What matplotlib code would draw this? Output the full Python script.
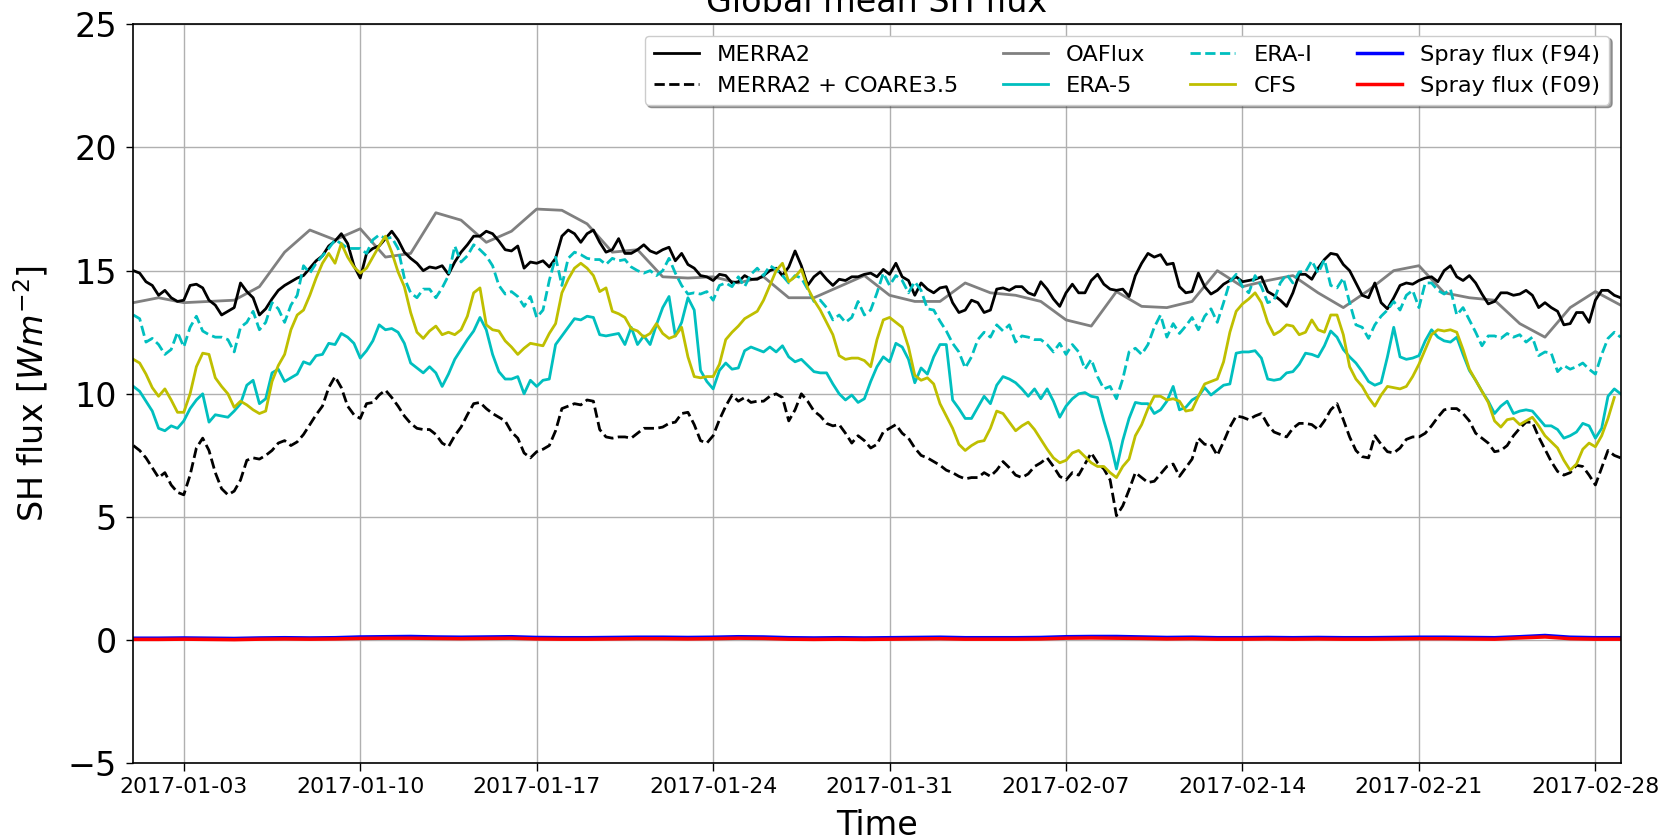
import matplotlib as mpl
mpl.use('agg')
import matplotlib.pyplot as plt
import matplotlib.dates as mdates
import numpy as np
import pandas as pd

# 6-hourly series, one row per day (00, 06, 12, 18 UTC), last value = 2017-03-01 00 UTC
merra2 = [
    15.0, 14.9, 14.55, 14.4,   14.0, 14.2, 13.9, 13.75,   13.8, 14.4, 14.45, 14.3,
    13.8, 13.6, 13.2, 13.35,   13.5, 14.5, 14.15, 13.9,   13.2, 13.45, 13.85, 14.2,
    14.4, 14.55, 14.7, 14.8,   15.1, 15.4, 15.6, 16.0,   16.2, 16.5, 16.1, 15.2,
    14.7, 15.7, 15.9, 16.0,   16.3, 16.6, 16.25, 15.75,   15.5, 15.3, 15.0, 15.15,
    15.1, 15.2, 14.85, 15.35,   15.75, 16.05, 16.4, 16.4,   16.6, 16.5, 16.2, 15.85,
    15.8, 16.0, 15.1, 15.35,   15.3, 15.4, 15.15, 15.5,   16.4, 16.65, 16.5, 16.15,
    16.5, 16.65, 16.15, 15.75,   15.85, 16.3, 15.7, 15.7,   15.85, 16.05, 15.8, 15.7,
    15.85, 15.95, 15.4, 15.7,   15.25, 15.1, 14.8, 14.75,   14.6, 14.85, 14.8, 14.5,
    14.55, 14.8, 14.65, 14.65,   14.8, 15.0, 15.1, 14.8,   15.15, 15.8, 15.2, 14.4,
    14.75, 14.95, 14.65, 14.4,   14.65, 14.6, 14.75, 14.75,   14.85, 14.9, 14.75, 15.05,
    14.85, 15.3, 14.75, 14.6,   14.0, 14.5, 14.25, 14.1,   14.3, 14.35, 13.7, 13.3,
    13.4, 13.8, 13.7, 13.3,   13.4, 14.25, 14.3, 14.2,   14.35, 14.35, 14.1, 14.0,
    14.55, 14.25, 13.85, 13.55,   14.1, 14.45, 14.1, 14.1,   14.6, 14.85, 14.45, 14.25,
    14.2, 14.25, 13.95, 14.8,   15.3, 15.7, 15.55, 15.65,   15.25, 15.3, 14.35, 14.1,
    14.15, 14.9, 14.35, 14.05,   14.2, 14.45, 14.6, 14.75,   14.55, 14.6, 14.65, 14.75,
    14.15, 14.0, 13.8, 13.55,   14.1, 14.85, 14.85, 14.65,   15.1, 15.45, 15.7, 15.65,
    15.25, 15.0, 14.5, 14.0,   13.9, 14.5, 13.7, 13.45,   13.9, 14.4, 14.5, 14.45,
    14.6, 14.7, 14.75, 14.55,   15.0, 15.2, 14.75, 14.6,   14.8, 14.5, 14.05, 13.65,
    13.75, 14.1, 14.1, 14.0,   14.05, 14.2, 14.0, 13.5,   13.7, 13.5, 13.35, 12.8,
    12.85, 13.3, 13.3, 12.9,   13.8, 14.2, 14.2, 14.0,   13.9]

merra2_coare = [
    7.9, 7.7, 7.4, 7.0,   6.6, 6.8, 6.3, 6.0,   5.9, 6.7, 7.8, 8.2,
    7.7, 6.8, 6.15, 5.9,   6.05, 6.5, 7.3, 7.4,   7.35, 7.5, 7.7, 8.0,
    8.1, 7.9, 8.05, 8.35,   8.75, 9.15, 9.5, 10.25,   10.7, 10.25, 9.5, 9.15,
    9.0, 9.6, 9.65, 9.95,   10.15, 9.85, 9.5, 9.1,   8.8, 8.6, 8.55, 8.55,
    8.35, 8.0, 7.85, 8.3,   8.65, 9.15, 9.6, 9.65,   9.4, 9.2, 9.05, 8.9,
    8.45, 8.2, 7.6, 7.4,   7.65, 7.75, 7.9, 8.5,   9.4, 9.5, 9.6, 9.55,
    9.75, 9.7, 8.55, 8.25,   8.2, 8.25, 8.25, 8.2,   8.4, 8.6, 8.6, 8.6,
    8.65, 8.8, 8.85, 9.2,   9.25, 8.75, 8.1, 8.0,   8.3, 8.95, 9.5, 9.95,
    9.7, 9.85, 9.65, 9.7,   9.7, 9.9, 10.0, 9.85,   8.9, 9.35, 10.0, 9.7,
    9.3, 9.1, 8.8, 8.7,   8.75, 8.4, 8.0, 8.3,   8.1, 7.8, 7.95, 8.45,
    8.6, 8.75, 8.4, 8.2,   7.8, 7.5, 7.4, 7.25,   7.1, 6.9, 6.8, 6.65,
    6.55, 6.6, 6.6, 6.8,   6.65, 6.9, 7.25, 7.0,   6.7, 6.6, 6.75, 7.05,
    7.2, 7.4, 7.05, 6.65,   6.5, 6.8, 6.7, 7.15,   7.6, 7.2, 6.95, 6.5,
    5.05, 5.45, 6.1, 6.8,   6.6, 6.4, 6.45, 6.75,   7.05, 7.15, 6.65, 7.0,
    7.35, 8.2, 7.95, 7.95,   7.5, 8.05, 8.65, 9.1,   9.05, 8.95, 9.1, 9.2,
    8.75, 8.45, 8.35, 8.25,   8.6, 8.8, 8.8, 8.75,   8.55, 8.9, 9.35, 9.6,
    8.95, 8.25, 7.7, 7.45,   7.4, 8.3, 7.95, 7.65,   7.6, 7.8, 8.15, 8.25,
    8.25, 8.4, 8.7, 9.05,   9.35, 9.4, 9.4, 9.2,   8.9, 8.4, 8.2, 8.0,
    7.65, 7.7, 7.9, 8.3,   8.6, 8.85, 8.85, 8.25,   7.75, 7.25, 6.85, 6.7,
    6.8, 7.1, 7.05, 6.7,   6.3, 7.0, 7.7, 7.5,   7.4]

era5 = [
    10.3, 10.1, 9.7, 9.3,   8.6, 8.5, 8.7, 8.6,   8.9, 9.4, 9.75, 10.0,
    8.85, 9.15, 9.1, 9.05,   9.3, 9.6, 10.35, 10.55,   9.6, 9.8, 10.85, 11.0,
    10.5, 10.65, 10.8, 11.3,   11.2, 11.55, 11.6, 12.05,   12.0, 12.45, 12.3, 12.05,
    11.45, 11.75, 12.15, 12.8,   12.6, 12.65, 12.5, 12.05,   11.25, 11.05, 10.85, 11.1,
    10.85, 10.3, 10.8, 11.4,   11.8, 12.2, 12.55, 13.1,   12.6, 11.6, 10.9, 10.6,
    10.6, 10.7, 10.0, 10.55,   10.3, 10.55, 10.6, 12.0,   12.35, 12.7, 13.05, 13.0,
    13.15, 13.1, 12.4, 12.35,   12.4, 12.45, 12.0, 12.7,   12.0, 12.35, 12.0, 12.8,
    13.5, 13.95, 12.35, 12.9,   13.9, 13.4, 10.95, 10.5,   10.2, 10.95, 11.25, 11.0,
    11.05, 11.75, 11.9, 11.8,   11.7, 11.9, 11.7, 11.95,   11.5, 11.3, 11.4, 11.15,
    10.9, 10.85, 10.85, 10.4,   10.0, 9.75, 9.95, 9.65,   9.8, 10.5, 11.1, 11.5,
    11.3, 12.05, 11.9, 11.4,   10.45, 11.05, 10.8, 11.5,   12.0, 12.0, 9.75, 9.4,
    9.0, 9.0, 9.45, 9.9,   9.6, 10.35, 10.7, 10.6,   10.45, 10.2, 9.9, 10.2,
    9.8, 10.2, 9.7, 9.05,   9.5, 9.8, 10.0, 10.05,   9.9, 9.85, 8.9, 8.05,
    6.95, 8.1, 9.0, 9.65,   9.6, 9.6, 9.2, 9.35,   9.7, 10.3, 9.35, 9.45,
    9.75, 9.9, 10.25, 9.95,   10.15, 10.35, 10.4, 11.65,   11.7, 11.7, 11.75, 11.45,
    10.6, 10.55, 10.6, 10.85,   10.9, 11.2, 11.65, 11.6,   11.5, 11.95, 12.55, 12.3,
    11.8, 11.5, 11.25, 10.9,   10.5, 10.35, 10.45, 11.5,   12.7, 11.5, 11.4, 11.45,
    11.55, 12.15, 12.6, 12.3,   12.15, 12.1, 12.3, 11.6,   10.95, 10.55, 10.1, 9.7,
    9.2, 9.5, 9.7, 9.2,   9.3, 9.35, 9.3, 9.0,   8.7, 8.7, 8.55, 8.2,
    8.3, 8.45, 8.8, 8.7,   8.2, 8.6, 9.9, 10.2,   10.0]

erai = [
    13.2, 13.05, 12.1, 12.25,   12.0, 11.6, 11.8, 12.5,   11.9, 12.7, 13.15, 12.55,
    12.4, 12.3, 12.3, 12.2,   11.7, 12.7, 12.9, 13.35,   12.6, 12.9, 13.7, 13.45,
    12.9, 13.6, 14.0, 15.2,   14.9, 15.3, 15.6, 15.9,   16.25, 16.1, 15.9, 15.9,
    15.9, 15.7, 16.25, 16.45,   16.3, 16.35, 15.9, 14.7,   14.1, 13.9, 14.25, 14.25,
    13.9, 14.3, 14.8, 16.0,   15.35, 15.6, 16.05, 15.85,   15.6, 15.2, 14.4, 14.05,
    14.15, 13.95, 13.55, 13.95,   13.1, 13.4, 14.6, 15.55,   14.4, 15.5, 15.75, 15.65,
    15.5, 15.45, 15.45, 15.25,   15.5, 15.4, 15.45, 15.15,   15.0, 14.9, 15.0, 14.8,
    15.0, 15.5, 14.9, 14.4,   14.05, 14.1, 14.05, 14.15,   13.8, 14.4, 14.5, 14.35,
    14.75, 14.35, 14.85, 15.1,   14.8, 15.2, 15.05, 14.8,   14.5, 14.8, 14.7, 14.25,
    13.75, 13.8, 13.5, 13.0,   13.2, 12.9, 13.1, 13.75,   13.2, 13.4, 14.1, 14.9,
    14.4, 14.8, 14.6, 14.1,   14.55, 14.2, 13.45, 13.4,   12.95, 12.55, 12.05, 11.7,
    11.05, 11.5, 12.2, 12.5,   12.3, 12.8, 12.55, 12.8,   12.1, 12.35, 12.3, 12.2,
    12.2, 12.0, 11.7, 12.05,   11.6, 12.0, 11.7, 11.0,   11.4, 10.7, 10.2, 10.3,
    9.8, 10.6, 11.7, 11.85,   11.6, 12.0, 12.7, 13.2,   12.3, 12.85, 12.45, 12.75,
    13.1, 12.6, 13.15, 13.45,   12.9, 13.7, 14.55, 14.85,   14.35, 14.1, 14.8, 14.35,
    13.7, 13.8, 14.5, 14.85,   14.5, 14.95, 14.95, 15.4,   14.9, 15.45, 14.4, 14.3,
    14.7, 13.7, 12.8, 12.7,   12.25, 12.8, 13.15, 13.4,   13.75, 13.4, 14.0, 14.2,
    13.5, 14.5, 14.5, 14.2,   14.05, 14.25, 13.2, 13.5,   13.0, 12.5, 11.95, 12.35,
    12.35, 12.25, 12.45, 12.3,   12.4, 12.1, 12.3, 11.55,   11.7, 11.65, 10.9, 11.15,
    11.0, 11.1, 11.25, 11.0,   10.8, 11.6, 12.25, 12.5,   12.3]

cfs = [
    11.4, 11.25, 10.8, 10.25,   9.9, 10.2, 9.75, 9.25,   9.25, 10.0, 11.1, 11.65,
    11.6, 10.65, 10.3, 10.0,   9.45, 9.7, 9.55, 9.35,   9.2, 9.3, 10.5, 11.15,
    11.6, 12.6, 13.2, 13.4,   14.0, 14.7, 15.3, 15.7,   15.3, 16.1, 15.55, 15.15,
    14.9, 15.1, 15.55, 16.0,   16.4, 15.75, 14.95, 14.35,   13.3, 12.5, 12.25, 12.55,
    12.75, 12.4, 12.5, 12.4,   12.6, 13.15, 14.1, 14.3,   12.8, 12.6, 12.55, 12.15,
    11.9, 11.6, 11.85, 12.05,   12.0, 11.95, 12.45, 12.85,   14.1, 14.65, 15.1, 15.3,
    15.1, 14.8, 14.15, 14.3,   13.35, 13.25, 13.1, 12.65,   12.55, 12.3, 12.45, 12.85,
    12.45, 12.25, 12.35, 12.7,   11.5, 10.7, 10.65, 10.7,   10.7, 11.2, 12.2, 12.5,
    12.75, 13.05, 13.2, 13.35,   13.8, 14.4, 15.0, 15.3,   14.55, 14.75, 15.05, 14.3,
    13.8, 13.4, 12.9, 12.4,   11.55, 11.4, 11.45, 11.45,   11.35, 11.1, 12.2, 13.0,
    13.1, 12.9, 12.7, 11.9,   10.75, 10.55, 10.65, 10.4,   9.6, 9.1, 8.6, 7.95,
    7.7, 7.9, 8.05, 8.1,   8.6, 9.3, 9.2, 8.85,   8.5, 8.7, 8.85, 8.55,
    8.15, 7.75, 7.4, 7.2,   7.3, 7.6, 7.7, 7.45,   7.2, 7.05, 7.05, 6.8,
    6.6, 7.05, 7.35, 8.3,   8.75, 9.4, 9.9, 9.9,   9.75, 9.8, 9.7, 9.3,
    9.35, 9.9, 10.4, 10.5,   10.6, 11.3, 12.5, 13.35,   13.65, 13.85, 14.1, 13.7,
    12.9, 12.4, 12.55, 12.8,   12.75, 12.4, 12.5, 13.0,   12.6, 12.5, 13.2, 13.2,
    12.4, 11.1, 10.6, 10.3,   9.85, 9.5, 9.95, 10.3,   10.25, 10.2, 10.3, 10.7,
    11.2, 11.8, 12.4, 12.6,   12.55, 12.6, 12.5, 11.8,   11.0, 10.55, 10.1, 9.65,
    8.9, 8.65, 8.95, 9.0,   8.75, 8.9, 9.05, 8.7,   8.3, 8.05, 7.8, 7.3,
    6.9, 7.15, 7.75, 8.0,   7.85, 8.3, 9.0, 9.85,   np.nan]

# daily series, 2017-01-01 .. 2017-03-01
oaflux = [13.7, 13.9, 13.7, 13.75, 13.8, 14.35, 15.75, 16.65, 16.25, 16.7,
          15.55, 15.7, 17.35, 17.05, 16.15, 16.6, 17.5, 17.45, 16.9, 15.75,
          15.85, 14.75, 14.7, 14.75, 14.5, 14.75, 13.9, 13.9, 14.35, 14.8,
          14.0, 13.75, 13.75, 14.5, 14.1, 14.0, 13.75, 13.0, 12.75, 14.15,
          13.55, 13.5, 13.75, 15.0, 14.35, 14.6, 14.8, 14.1, 13.5, 14.2,
          15.0, 15.2, 14.1, 13.9, 13.8, 12.85, 12.3, 13.5, 14.15, 13.6]

spray_f94 = [0.08, 0.08, 0.09, 0.08, 0.07, 0.09, 0.10, 0.09, 0.10, 0.13,
             0.14, 0.15, 0.13, 0.12, 0.13, 0.14, 0.11, 0.10, 0.10, 0.11,
             0.12, 0.12, 0.11, 0.12, 0.14, 0.13, 0.10, 0.09, 0.10, 0.09,
             0.10, 0.11, 0.12, 0.10, 0.10, 0.10, 0.11, 0.14, 0.15, 0.15,
             0.13, 0.11, 0.12, 0.10, 0.10, 0.11, 0.10, 0.11, 0.10, 0.10,
             0.11, 0.12, 0.12, 0.11, 0.10, 0.14, 0.19, 0.12, 0.10, 0.10]
spray_f09 = [0.03, 0.03, 0.04, 0.03, 0.02, 0.04, 0.05, 0.04, 0.05, 0.07,
             0.08, 0.08, 0.07, 0.06, 0.07, 0.08, 0.05, 0.04, 0.04, 0.05,
             0.06, 0.06, 0.05, 0.06, 0.08, 0.07, 0.04, 0.03, 0.04, 0.03,
             0.04, 0.05, 0.06, 0.04, 0.04, 0.04, 0.05, 0.08, 0.09, 0.08,
             0.07, 0.05, 0.06, 0.04, 0.04, 0.05, 0.04, 0.05, 0.04, 0.04,
             0.05, 0.06, 0.06, 0.05, 0.04, 0.09, 0.13, 0.06, 0.04, 0.04]

t6 = pd.date_range('2017-01-01', periods=len(merra2), freq='6h')
t24 = pd.date_range('2017-01-01', periods=len(oaflux), freq='D')

big = 24
small = 15.8

fig = plt.figure(figsize=(16.63, 8.38), dpi=100)
ax = fig.add_subplot(111)
fig.subplots_adjust(left=0.0802, right=0.9745, bottom=0.0891, top=0.971)

lw = 2.0
ax.plot(t6, merra2, color='k', lw=lw, label='MERRA2')
ax.plot(t6, merra2_coare, color='k', ls='--', lw=lw, label='MERRA2 + COARE3.5')
ax.plot(t24, oaflux, color='gray', lw=lw, label='OAFlux', zorder=1.9)
ax.plot(t6, era5, color='c', lw=lw, label='ERA-5')
ax.plot(t6, erai, color='c', ls='--', lw=lw, label='ERA-I')
ax.plot(t6, cfs, color='y', lw=lw, label='CFS')
ax.plot(t24, spray_f94, color='b', lw=2.5, label='Spray flux (F94)')
ax.plot(t24, spray_f09, color='r', lw=2.5, label='Spray flux (F09)')

ax.set_xlim(t6[0], t6[-1])
ax.set_ylim(-5, 25)
ax.set_yticks([-5, 0, 5, 10, 15, 20, 25])
ax.xaxis.set_major_locator(mdates.WeekdayLocator(byweekday=mdates.TU))
ax.xaxis.set_major_formatter(mdates.DateFormatter('%Y-%m-%d'))
ax.grid(True, color='#b0b0b0', lw=1.0)

ax.tick_params(axis='x', labelsize=small, length=5.5, width=1.0, pad=4)
ax.tick_params(axis='y', labelsize=big, length=5, width=1.0, pad=7)
for sp in ax.spines.values():
    sp.set_linewidth(1.2)

ax.set_title('Global mean SH flux', fontsize=big, pad=8.5)
ax.set_ylabel('SH flux [$Wm^{-2}$]', fontsize=big)
ax.yaxis.set_label_coords(-0.056, 0.5)
ax.set_xlabel('Time', fontsize=big)
ax.xaxis.set_label_coords(0.5, -0.062)

ax.legend(loc='upper right', ncol=4, fontsize=16.2, shadow=True, framealpha=1)

plt.savefig('out.png', dpi=100)
plt.close(fig)
